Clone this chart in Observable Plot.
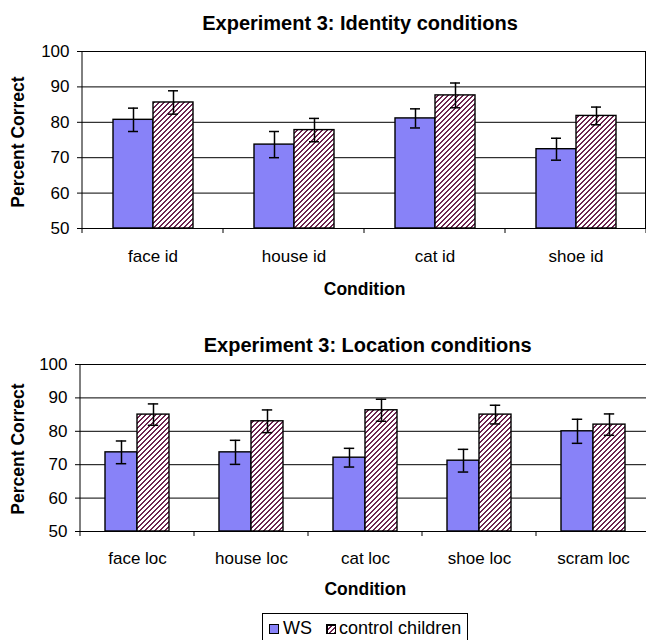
<!DOCTYPE html>
<html><head><meta charset="utf-8">
<script src="https://cdn.jsdelivr.net/npm/d3@7"></script>
<script src="https://cdn.jsdelivr.net/npm/@observablehq/plot@0.6"></script>
<style>
html,body{margin:0;padding:0;background:#fff;overflow:hidden;}
#page{position:relative;width:646px;height:640px;overflow:hidden;font-family:"Liberation Sans",Arial,sans-serif;color:#000;}
.abs{position:absolute;white-space:nowrap;}
.title{font-weight:bold;font-size:20px;line-height:20px;transform:translateX(-50%);}
.xlab{font-weight:bold;font-size:17.5px;line-height:20px;transform:translateX(-50%);}
.ylab{font-weight:bold;font-size:17.5px;line-height:20px;transform:translate(-50%,-50%) rotate(-90deg);}
.chart{position:absolute;left:0;}
#legend{position:absolute;left:261.6px;top:613.3px;width:206px;height:30px;border:1px solid #000;box-sizing:border-box;background:#fff;}
#legend .sw{position:absolute;top:9.7px;width:10px;height:10px;box-sizing:border-box;border:1px solid #000;}
#legend .tx{position:absolute;top:3.8px;font-size:18px;line-height:20px;white-space:nowrap;}
</style></head>
<body><div id="page">
<svg width="0" height="0" style="position:absolute;left:0;top:0">
  <defs>
    <pattern id="hatch" patternUnits="userSpaceOnUse" width="5" height="5">
      <rect x="0" y="0" width="5" height="5" fill="#fff"/>
      <rect x="4" y="0" width="1" height="1" fill="#6e2450"/>
      <rect x="0" y="0" width="1" height="1" fill="#6e2450"/>
      <rect x="3" y="1" width="2" height="1" fill="#6e2450"/>
      <rect x="2" y="2" width="2" height="1" fill="#6e2450"/>
      <rect x="1" y="3" width="2" height="1" fill="#6e2450"/>
      <rect x="0" y="4" width="2" height="1" fill="#6e2450"/>
    </pattern>
  </defs>
</svg>
<div class="abs title" style="left:360px;top:13.1px">Experiment 3: Identity conditions</div>
<div class="abs title" style="left:367.7px;top:334.8px">Experiment 3: Location conditions</div>
<div class="abs ylab" style="left:18px;top:141.7px">Percent Correct</div>
<div class="abs ylab" style="left:18px;top:449px">Percent Correct</div>
<div class="abs xlab" style="left:364.6px;top:278.9px">Condition</div>
<div class="abs xlab" style="left:365.3px;top:578.9px">Condition</div>
<div id="legend">
  <div class="sw" style="left:6.4px;background:#8882f8"></div>
  <div class="tx" style="left:20.5px">WS</div>
  <svg class="sw" style="left:63.4px;padding:0" width="10" height="10"><rect x="0" y="0" width="10" height="10" fill="url(#hatch)" stroke="#000" stroke-width="2"/></svg>
  <div class="tx" style="left:76.5px">control children</div>
</div>
</div>
<script>
const seriesNames = ["WS", "control children"];
const yTicks = [50, 60, 70, 80, 90, 100];

const idCats = ["face id", "house id", "cat id", "shoe id"];
const idWS = [80.7, 73.7, 81.1, 72.4];
const idWSErr = [3.3, 3.7, 2.7, 3.1];
const idCtrl = [85.6, 77.8, 87.6, 81.8];
const idCtrlErr = [3.3, 3.3, 3.5, 2.5];

const locCats = ["face loc", "house loc", "cat loc", "shoe loc", "scram loc"];
const locWS = [73.7, 73.7, 72.1, 71.2, 80.0];
const locWSErr = [3.4, 3.6, 2.8, 3.4, 3.6];
const locCtrl = [85.0, 83.0, 86.3, 85.0, 82.0];
const locCtrlErr = [3.2, 3.4, 3.3, 2.8, 3.2];

const wsColor = "#8882f8";

function makeChart(cats, ws, wsErr, ctrl, ctrlErr, o) {
  const rows = [];
  cats.forEach((c, i) => {
    rows.push({cat: c, series: seriesNames[0], value: ws[i], err: wsErr[i]});
    rows.push({cat: c, series: seriesNames[1], value: ctrl[i], err: ctrlErr[i]});
  });
  const yMin = yTicks[0], yMax = yTicks[yTicks.length - 1];
  const plot = Plot.plot({
    width: 646,
    height: o.height,
    marginTop: o.marginTop,
    marginBottom: o.height - o.marginTop - o.innerH,
    marginLeft: o.marginLeft,
    marginRight: o.marginRight,
    style: {fontFamily: '"Liberation Sans", Arial, sans-serif', fontSize: "17px", color: "#000", background: "transparent", overflow: "visible"},
    facet: {data: rows, x: "cat"},
    fx: {domain: cats, padding: 0, axis: "bottom", label: null, tickSize: 0, tickPadding: o.tickPad},
    x: {domain: seriesNames, paddingInner: 0, paddingOuter: 0.739, axis: null},
    y: {domain: [yMin, yMax], ticks: yTicks, tickSize: 5, tickPadding: 8, label: null},
    marks: [
      Plot.ruleY(yTicks, {stroke: "#000", strokeWidth: 1}),
      Plot.barY(rows, {filter: d => d.series === seriesNames[0], x: "series", y1: yMin, y2: "value", fill: wsColor, stroke: "#000", strokeWidth: 1.4}),
      Plot.barY(rows, {filter: d => d.series === seriesNames[1], x: "series", y1: yMin, y2: "value", fill: "url(#hatch)", stroke: "#000", strokeWidth: 1.4}),
      Plot.ruleX(rows, {x: "series", y1: d => d.value - d.err, y2: d => d.value + d.err, stroke: "#000", strokeWidth: 1.5}),
      Plot.tickY(rows, {x: "series", y: d => d.value + d.err, insetLeft: o.capInset, insetRight: o.capInset, stroke: "#000", strokeWidth: 1.5}),
      Plot.tickY(rows, {x: "series", y: d => d.value - d.err, insetLeft: o.capInset, insetRight: o.capInset, stroke: "#000", strokeWidth: 1.5})
    ]
  });
  const svg = plot.tagName.toLowerCase() === "svg" ? plot : plot.querySelector("svg");
  try {
    const fxs = plot.scale("fx"), ys = plot.scale("y");
    const y0 = ys.apply(yMin), y1 = ys.apply(yMax);
    const step = fxs.step || fxs.bandwidth;
    const edges = cats.map(c => fxs.apply(c));
    edges.push(edges[edges.length - 1] + step);
    const g = d3.select(svg).append("g").attr("stroke", "#000").attr("stroke-width", 1);
    g.append("line").attr("x1", edges[0]).attr("x2", edges[0]).attr("y1", y1).attr("y2", y0 + 5);
    edges.slice(1).forEach(e => g.append("line").attr("x1", e).attr("x2", e).attr("y1", y0).attr("y2", y0 + 5));
    if (o.rightBorder) g.append("line").attr("x1", edges[edges.length - 1] - 0.5).attr("x2", edges[edges.length - 1] - 0.5).attr("y1", y1).attr("y2", y0);
  } catch (e) { console.error(e); }
  plot.classList && plot.classList.add("chart");
  plot.style.position = "absolute";
  plot.style.left = "0px";
  plot.style.top = o.top + "px";
  return plot;
}

const page = document.getElementById("page");
const c1 = makeChart(idCats, idWS, idWSErr, idCtrl, idCtrlErr,
  {top: 0, height: 300, marginTop: 51, innerH: 177, marginLeft: 81, marginRight: 0, tickPad: 21, capInset: 15, rightBorder: true});
const c2 = makeChart(locCats, locWS, locWSErr, locCtrl, locCtrlErr,
  {top: 320, height: 320, marginTop: 44, innerH: 167, marginLeft: 80, marginRight: -4, tickPad: 20, capInset: 10.8, rightBorder: false});
page.insertBefore(c1, document.getElementById("legend"));
page.insertBefore(c2, document.getElementById("legend"));
</script>
</body></html>
